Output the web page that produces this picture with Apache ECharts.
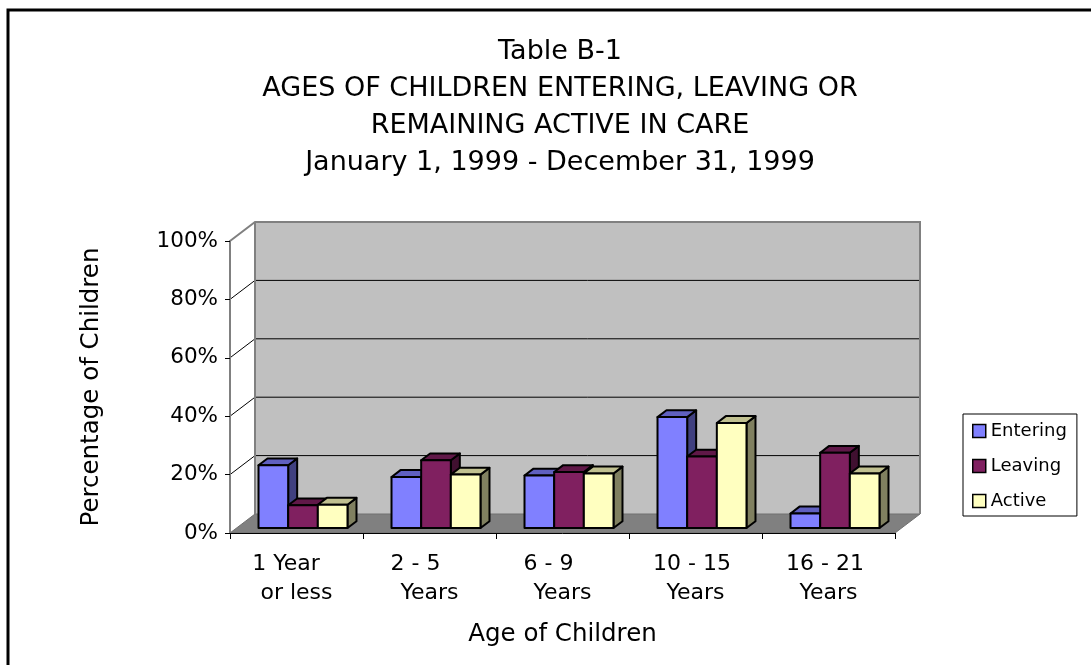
<!DOCTYPE html>
<html>
<head>
<meta charset="utf-8">
<script src="https://cdn.jsdelivr.net/npm/echarts@6/dist/echarts.min.js"></script>
<style>
  html, body { margin: 0; padding: 0; background: #fff; }
  #chart { width: 1091px; height: 665px; }
</style>
</head>
<body>
<div id="chart"></div>
<script>
// Age groups (second line of each label sits under the first)
const categories = ['1 Year   \nor less', '2 - 5    \nYears', '6 - 9    \nYears', '10 - 15 \nYears', '16 - 21 \nYears'];
const seriesNames = ['Entering', 'Leaving', 'Active'];
// Percent of children in each age group
const entering = [21.5, 17.5, 18, 38, 5];
const leaving = [7.8, 23.2, 19.2, 24.5, 25.8];
const active = [8, 18.3, 18.7, 36, 18.7];
const yTicks = [0, 20, 40, 60, 80, 100];

const FONT = 'Tahoma, "DejaVu Sans", sans-serif';

// Oblique depth of the plot box in pixels, and where the bar slab sits inside it
const WALL = [25, -19];
const BAR_FRONT = 0.26;
const BAR_BACK = 0.62;
const BAR_FRACTION = 0.223; // width of one bar relative to a category band

const shades = [
  { front: '#8080FF', top: '#6060C0', side: '#404080' },
  { front: '#802060', top: '#601848', side: '#401030' },
  { front: '#FFFFC0', top: '#C0C090', side: '#808060' }
];
const seriesValues = [entering, leaving, active];

const chart = echarts.init(document.getElementById('chart'), null, { renderer: 'canvas' });

// Back wall, floor and the gridlines running across the wall and the left side panel
function renderFrame(params, api) {
  const cs = params.coordSys;
  const left = cs.x, right = cs.x + cs.width;
  const y0 = api.coord([0, yTicks[0]])[1];
  const yMax = api.coord([0, yTicks[yTicks.length - 1]])[1];
  const [wx, wy] = WALL;
  const children = [];
  // wall
  children.push({
    type: 'rect',
    shape: { x: left + wx, y: yMax + wy, width: cs.width, height: y0 - yMax },
    style: { fill: '#C0C0C0', stroke: null }
  });
  // floor
  children.push({
    type: 'polygon',
    shape: { points: [[left, y0], [left + wx, y0 + wy], [right + wx, y0 + wy], [right, y0]] },
    style: { fill: '#808080', stroke: '#707070', lineWidth: 1 }
  });
  // gridlines
  yTicks.slice(1, -1).forEach(function (t) {
    const y = api.coord([0, t])[1];
    children.push({
      type: 'polyline',
      shape: { points: [[left, y], [left + wx, y + wy], [right + wx, y + wy]] },
      style: { stroke: '#000', lineWidth: 1, fill: null }
    });
  });
  // wall rim
  children.push({
    type: 'polyline',
    shape: { points: [[left, yMax], [left + wx, yMax + wy], [right + wx, yMax + wy], [right + wx, y0 + wy]] },
    style: { stroke: '#808080', lineWidth: 2, fill: null }
  });
  children.push({
    type: 'line',
    shape: { x1: left + wx, y1: yMax + wy, x2: left + wx, y2: y0 + wy },
    style: { stroke: '#808080', lineWidth: 2 }
  });
  return { type: 'group', children: children };
}

function barRenderer(s) {
  const c = shades[s];
  return function (params, api) {
    const ci = api.value(0);
    const v = api.value(1);
    const base = api.coord([ci, 0]);
    const top = api.coord([ci, v]);
    const band = api.size([1, 0])[0];
    const w = band * BAR_FRACTION;
    const ox = WALL[0] * BAR_FRONT, oy = WALL[1] * BAR_FRONT;
    const dx = WALL[0] * (BAR_BACK - BAR_FRONT), dy = WALL[1] * (BAR_BACK - BAR_FRONT);
    const x0 = base[0] - 1.5 * w + s * w + ox;
    const x1 = x0 + w;
    const yb = base[1] + oy;
    const yt = top[1] + oy;
    const edge = { stroke: '#000', lineWidth: 2, lineJoin: 'round' };
    return {
      type: 'group',
      children: [
        { type: 'polygon', shape: { points: [[x1, yt], [x1 + dx, yt + dy], [x1 + dx, yb + dy], [x1, yb]] },
          style: Object.assign({ fill: c.side }, edge) },
        { type: 'polygon', shape: { points: [[x0, yt], [x1, yt], [x1 + dx, yt + dy], [x0 + dx, yt + dy]] },
          style: Object.assign({ fill: c.top }, edge) },
        { type: 'rect', shape: { x: x0, y: yt, width: w, height: yb - yt },
          style: Object.assign({ fill: c.front }, edge) }
      ]
    };
  };
}

const series = [{
  name: 'frame',
  type: 'custom',
  silent: true,
  z: 1,
  data: [[0, 0]],
  renderItem: renderFrame
}];
seriesNames.forEach(function (name, s) {
  series.push({
    name: name,
    type: 'custom',
    z: 5,
    itemStyle: { color: shades[s].front },
    data: seriesValues[s].map(function (v, i) { return [i, v]; }),
    renderItem: barRenderer(s)
  });
});

chart.setOption({
  animation: false,
  backgroundColor: '#fff',
  title: {
    text: 'Table B-1\nAGES OF CHILDREN ENTERING, LEAVING OR\nREMAINING ACTIVE IN CARE\nJanuary 1, 1999 - December 31, 1999',
    left: 555,
    top: 28,
    textAlign: 'center',
    textStyle: { fontFamily: FONT, fontSize: 27, fontWeight: 'normal', lineHeight: 37, color: '#000' }
  },
  grid: { left: 230, right: 196, top: 241, bottom: 132 },
  legend: {
    orient: 'vertical',
    left: 963,
    top: 414,
    padding: [8, 10, 6, 9],
    itemGap: 17,
    itemWidth: 13,
    itemHeight: 13,
    borderColor: '#000',
    borderWidth: 1,
    icon: 'rect',
    textStyle: { fontFamily: FONT, fontSize: 18, color: '#000', padding: [0, 0, 0, 0] },
    data: seriesNames.map(function (n, s) {
      return { name: n, itemStyle: { color: shades[s].front, borderColor: '#000', borderWidth: 1.5 } };
    })
  },
  xAxis: {
    type: 'category',
    data: categories,
    z: 3,
    name: 'Age of Children',
    nameLocation: 'middle',
    nameGap: 89,
    nameTextStyle: { fontFamily: FONT, fontSize: 24.5, color: '#000' },
    axisLine: { lineStyle: { color: '#000', width: 1 } },
    axisTick: { show: true, length: 6, lineStyle: { color: '#000' } },
    axisLabel: { interval: 0, fontFamily: FONT, fontSize: 22, lineHeight: 29, color: '#000', margin: 17 },
    splitLine: { show: false }
  },
  yAxis: {
    type: 'value',
    min: 0,
    max: 100,
    interval: 20,
    z: 3,
    name: 'Percentage of Children',
    nameLocation: 'middle',
    nameGap: 126,
    nameRotate: 90,
    nameTextStyle: { fontFamily: FONT, fontSize: 24.5, color: '#000' },
    axisLine: { show: true, lineStyle: { color: '#808080', width: 2 } },
    axisTick: { show: true, length: 5, lineStyle: { color: '#000' } },
    axisLabel: { formatter: '{value}%', fontFamily: FONT, fontSize: 21.5, color: '#000', margin: 12 },
    splitLine: { show: false }
  },
  graphic: [{
    type: 'rect',
    shape: { x: 8, y: 10, width: 1300, height: 900 },
    style: { fill: null, stroke: '#000', lineWidth: 3 },
    silent: true
  }],
  series: series
});
</script>
</body>
</html>
